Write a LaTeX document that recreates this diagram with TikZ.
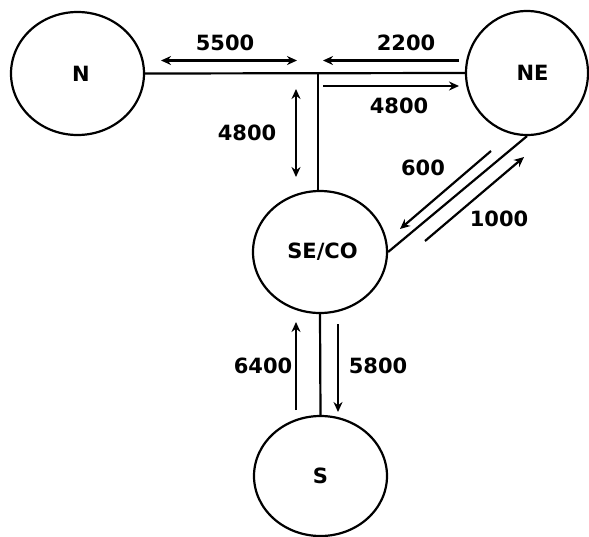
\documentclass[tikz,border=0pt]{standalone}
\usepackage{fontspec}
\setmainfont{DejaVu Sans}
\usetikzlibrary{shapes.geometric,arrows.meta}
\begin{document}
\begin{tikzpicture}[x=1pt,y=-1pt,
  region/.style={ellipse,draw,line width=2.2pt,inner sep=0pt,font=\fontsize{21}{25}\selectfont\bfseries},
  link/.style={line width=2.2pt},
  flow/.style={line width=2.2pt,-{Stealth[length=10pt,width=9pt]}},
  biflow/.style={line width=2.2pt,{Stealth[length=10pt,width=9pt]}-{Stealth[length=10pt,width=9pt]}},
  qty/.style={font=\fontsize{21}{25}\selectfont\bfseries,inner sep=0pt}]
\useasboundingbox (0,0) rectangle (589,536);
% regions (labels sit slightly right of centre)
\node[region,minimum width=133pt,minimum height=123pt] (N) at (77.5,73.5) {\hspace*{7pt}N};
\node[region,minimum width=122pt,minimum height=124pt] (NE) at (527,73) {\hspace*{11pt}NE};
\node[region,minimum width=134pt,minimum height=122pt] (SE) at (320,252) {\hspace*{5pt}SE/CO};
\node[region,minimum width=133pt,minimum height=120pt] (S) at (320.5,476) {S};
% trunk lines
\coordinate (J) at (318,73);
\draw[link] (N.east) -- (NE.west);
\draw[link] (J) -- (SE.north -| J);
\draw[link] (SE.east) -- (NE.south);
\draw[link] (SE.south) -- (S.north);
% flow arrows
\coordinate (a1) at (161,60.5); \coordinate (b1) at (297,60.5);
\draw[biflow] (a1) -- (b1);
\node[qty] (l5500) at (225,43) {5500};
\coordinate (a2) at (459,60.5); \coordinate (b2) at (323,60.5);
\draw[flow] (a2) -- (b2);
\node[qty] (l2200) at (406,43) {2200};
\coordinate (a3) at (323,86); \coordinate (b3) at (459,86);
\draw[flow] (a3) -- (b3);
\node[qty] (l4800a) at (399,106) {4800};
\coordinate (a4) at (296,89); \coordinate (b4) at (296,177);
\draw[biflow] (a4) -- (b4);
\node[qty] (l4800b) at (247,133) {4800};
\coordinate (a5) at (491,151); \coordinate (b5) at (400,229);
\draw[flow] (a5) -- (b5);
\node[qty] (l600) at (423,168) {600};
\coordinate (a6) at (425,241); \coordinate (b6) at (524,157);
\draw[flow] (a6) -- (b6);
\node[qty] (l1000) at (499,219) {1000};
\coordinate (a7) at (296,410); \coordinate (b7) at (296,322);
\draw[flow] (a7) -- (b7);
\node[qty] (l6400) at (263,366) {6400};
\coordinate (a8) at (338,324); \coordinate (b8) at (338,412);
\draw[flow] (a8) -- (b8);
\node[qty] (l5800) at (378,366) {5800};
\end{tikzpicture}
\end{document}
